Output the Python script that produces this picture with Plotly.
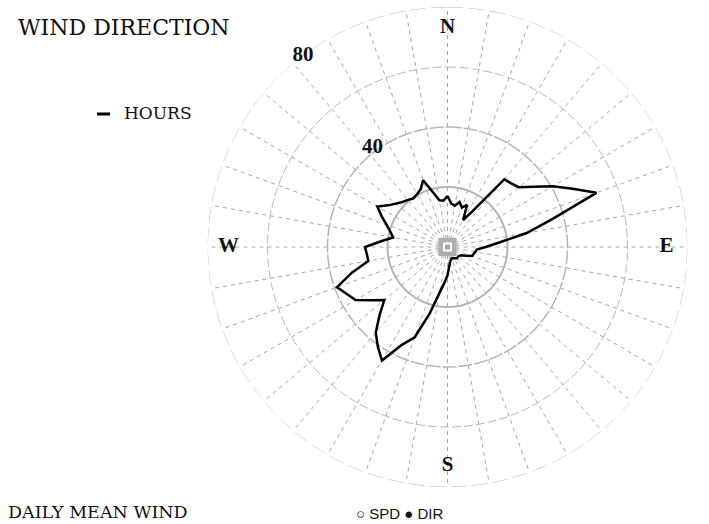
import plotly.graph_objects as go

# Wind direction frequency (hours per 5-degree sector, clockwise from north)
DIRECTIONS = list(range(0, 360, 5))
HOURS = [
    17, 14.5, 14, 15.5, 14, 15.5, 10.4, 14.6,      # 0-35
    29.5, 30, 31, 35, 40.5, 46, 52.8, 36.3,        # 40-75
    26.8, 17.3, 12.7, 9.8, 9.4, 9.0, 8.7, 7.0,     # 80-115
    5.5, 5.0, 4.8, 4.8, 4.9, 4.6, 4.3, 4.1,        # 120-155
    4.0, 4.5, 5.0, 6.5, 9.5, 12, 15.6, 23,         # 160-195
    32, 36, 43.7, 40.5, 37.2, 32, 27.5, 31,        # 200-235
    35.4, 37, 39.2, 33, 26.8, 27, 27.5, 22.2,      # 240-275
    18.4, 19.7, 21.6, 24.2, 27, 24.2, 22.5, 21.2,  # 280-315
    20.5, 19.8, 20.3, 21.2, 23.7, 19, 15.8, 15.5,  # 320-355
]
RINGS = [20, 40, 60, 80]
RING_LABELS = [40, 80]
CARDINALS = ["N", "E", "S", "W"]
CARDINAL_ANGLES = [0, 90, 180, 270]

W, H = 709, 524
cx, cy, R = 447.5, 247, 240
dom_x = [(cx - R) / W, (cx + R) / W]
dom_y = [(H - cy - R) / H, (H - cy + R) / H]
R_MAX = 80

fig = go.Figure()

ring_styles = {
    20: dict(color="#b4b4b4", width=2, dash="solid"),
    40: dict(color="#b4b4b4", width=1.5, dash="14px,2px"),
    60: dict(color="#b8b8b8", width=1, dash="9px,3px"),
    80: dict(color="#b8b8b8", width=1, dash="16px,5px"),
}
circle_theta = list(range(0, 361, 2))
for rv in RINGS:
    fig.add_trace(go.Scatterpolar(
        r=[rv] * len(circle_theta), theta=circle_theta, mode="lines",
        line=ring_styles[rv], hoverinfo="skip", showlegend=False,
    ))

# small square at the pole
for size, col in [(18, "#b0b0b0"), (9, "#ffffff"), (5, "#a8a8a8")]:
    fig.add_trace(go.Scatterpolar(
        r=[0], theta=[0], mode="markers",
        marker=dict(symbol="square", size=size, color=col, line=dict(width=0)),
        hoverinfo="skip", showlegend=False,
    ))

fig.add_trace(go.Scatterpolar(
    r=HOURS + HOURS[:1], theta=DIRECTIONS + DIRECTIONS[:1], mode="lines",
    line=dict(color="black", width=2.5), name="HOURS", showlegend=False,
))

# ring value labels along the 323-degree ray
fig.add_trace(go.Scatterpolar(
    r=[min(v + 1.5, R_MAX) for v in RING_LABELS],
    theta=[323] * len(RING_LABELS),
    mode="text", text=[str(v) for v in RING_LABELS], cliponaxis=False,
    textfont=dict(family="Liberation Serif", size=21, color="#111"),
    texttemplate="<b>%{text}</b>", hoverinfo="skip", showlegend=False,
))

fig.add_trace(go.Scatterpolar(
    r=[73] * len(CARDINALS), theta=CARDINAL_ANGLES, mode="text",
    text=CARDINALS, texttemplate="<b>%{text}</b>", cliponaxis=False,
    textfont=dict(family="Liberation Serif", size=21, color="#111"),
    hoverinfo="skip", showlegend=False,
))

fig.update_layout(
    width=W, height=H,
    margin=dict(l=0, r=0, t=0, b=0),
    paper_bgcolor="white", plot_bgcolor="white",
    showlegend=False,
    polar=dict(
        domain=dict(x=dom_x, y=dom_y),
        bgcolor="white",
        radialaxis=dict(range=[0, R_MAX], showgrid=False, showline=False,
                        showticklabels=False, ticks=""),
        angularaxis=dict(direction="clockwise", rotation=90,
                         tickmode="linear", tick0=0, dtick=10,
                         showgrid=True, gridcolor="#a8a8a8", gridwidth=1,
                         griddash="4px,4px", showline=False,
                         showticklabels=False, ticks=""),
    ),
)

# legend key for the direction line
fig.add_shape(type="line", xref="paper", yref="paper",
              x0=97 / W, x1=110 / W, y0=1 - 114 / H, y1=1 - 114 / H,
              line=dict(color="black", width=3))
fig.add_annotation(x=122 / W, y=1 - 113 / H, xref="paper", yref="paper",
                   text="HOURS", showarrow=False, xanchor="left", yanchor="middle",
                   font=dict(family="DejaVu Serif", size=17, color="#111"))

fig.add_annotation(x=16 / W, y=1 - 28 / H, xref="paper", yref="paper",
                   text="WIND DIRECTION", showarrow=False, xanchor="left",
                   yanchor="middle",
                   font=dict(family="DejaVu Serif", size=22, color="#111"))
fig.add_annotation(x=6 / W, y=0, xref="paper", yref="paper",
                   text="DAILY MEAN WIND", showarrow=False, xanchor="left",
                   yanchor="bottom",
                   font=dict(family="DejaVu Serif", size=17.5, color="#111"))
fig.add_annotation(x=354 / W, y=0, xref="paper", yref="paper",
                   text="○ SPD ● DIR", showarrow=False, xanchor="left",
                   yanchor="bottom",
                   font=dict(family="Liberation Sans", size=15, color="#111"))

fig.write_html("out.html")
